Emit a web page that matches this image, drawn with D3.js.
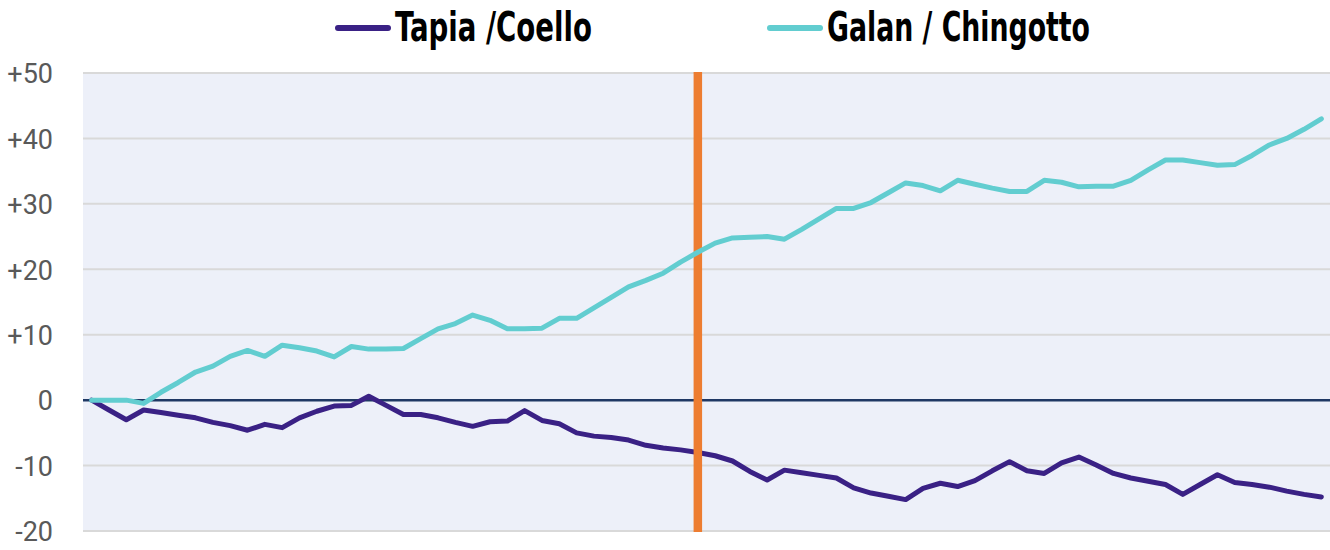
<!DOCTYPE html>
<html>
<head>
<meta charset="utf-8">
<script src="https://cdn.jsdelivr.net/npm/d3@7"></script>
<style>
  body { margin: 0; background: #fff; }
  svg { display: block; }
</style>
</head>
<body>
<div id="chart"></div>
<script>
// Match numbers (x categories), one point per match
const matches = d3.range(1, 73);

// Cumulative difference
const tapiaCoello = [
  0, -1.5, -3.0, -1.5, -1.9, -2.3, -2.7, -3.4, -3.9, -4.6,
  -3.7, -4.2, -2.7, -1.7, -0.9, -0.8, 0.6, -0.8, -2.2, -2.2,
  -2.7, -3.4, -4.0, -3.3, -3.2, -1.6, -3.1, -3.6, -5.0, -5.5,
  -5.7, -6.1, -6.9, -7.3, -7.6, -8.0, -8.5, -9.3, -10.9, -12.2,
  -10.7, -11.1, -11.5, -11.9, -13.4, -14.2, -14.7, -15.2, -13.5, -12.7,
  -13.2, -12.3, -10.8, -9.4, -10.8, -11.2, -9.6, -8.7, -9.9, -11.2,
  -11.9, -12.4, -12.9, -14.4, -12.9, -11.4, -12.6, -12.9, -13.3, -13.9,
  -14.4, -14.8
];

const galanChingotto = [
  0, 0, 0, -0.5, 1.2, 2.7, 4.3, 5.2, 6.7, 7.6,
  6.7, 8.4, 8.0, 7.5, 6.6, 8.2, 7.8, 7.8, 7.9, 9.4,
  10.9, 11.7, 13.0, 12.2, 10.9, 10.9, 11.0, 12.5, 12.5, 14.1,
  15.7, 17.3, 18.3, 19.4, 21.1, 22.6, 24.0, 24.8, 24.9, 25.0,
  24.6, 26.1, 27.7, 29.3, 29.3, 30.2, 31.7, 33.2, 32.8, 32.0,
  33.6, 33.0, 32.4, 31.9, 31.9, 33.6, 33.3, 32.6, 32.7, 32.7,
  33.6, 35.2, 36.7, 36.7, 36.3, 35.9, 36.0, 37.4, 39.0, 40.0,
  41.4, 43.0
];

const yTicks = [-20, -10, 0, 10, 20, 30, 40, 50];
const markerMatch = 36;

const seriesNames = ["Tapia /Coello", "Galan / Chingotto"];
const seriesColors = ["#3a2185", "#62cdd0"];

const W = 1330, H = 550;
const margin = { top: 73, right: 0, bottom: 18, left: 83 };

const svg = d3.select("#chart").append("svg")
  .attr("width", W).attr("height", H);

const x = d3.scalePoint()
  .domain(matches)
  .range([margin.left, W - margin.right])
  .padding(0.5);

const y = d3.scaleLinear()
  .domain([-20, 50])
  .range([H - margin.bottom - 1, margin.top]);

// plot background
svg.append("rect")
  .attr("x", margin.left).attr("y", y(50) - 1)
  .attr("width", W - margin.right - margin.left)
  .attr("height", y(-20) - y(50) + 2)
  .attr("fill", "#edf0f9");

// gridlines
svg.append("g")
  .selectAll("line")
  .data(yTicks.filter(d => d !== 0))
  .join("line")
  .attr("x1", margin.left).attr("x2", W - margin.right)
  .attr("y1", d => y(d)).attr("y2", d => y(d))
  .attr("stroke", "#d9d9d9")
  .attr("stroke-width", 2);

// y axis labels
const yAxis = svg.append("g")
  .attr("transform", `translate(53,0)`)
  .call(d3.axisLeft(y).tickValues(yTicks).tickSize(0).tickPadding(0)
    .tickFormat(d => d > 0 ? "+" + d : String(d)));
yAxis.select(".domain").remove();
yAxis.selectAll("text")
  .attr("fill", "#595959")
  .style("font-family", "Roboto, 'Liberation Sans', sans-serif")
  .style("font-size", "27px")
  .attr("dy", "0.36em");

// zero line
svg.append("line")
  .attr("x1", margin.left).attr("x2", W - margin.right)
  .attr("y1", y(0)).attr("y2", y(0))
  .attr("stroke", "#1f3864")
  .attr("stroke-width", 2.5);

const line = d3.line()
  .x((d, i) => x(matches[i]))
  .y(d => y(d));

svg.append("path")
  .datum(tapiaCoello)
  .attr("d", line)
  .attr("fill", "none")
  .attr("stroke", seriesColors[0])
  .attr("stroke-width", 5)
  .attr("stroke-linejoin", "round")
  .attr("stroke-linecap", "round");

// orange marker line
svg.append("line")
  .attr("x1", x(markerMatch)).attr("x2", x(markerMatch))
  .attr("y1", y(50) - 1).attr("y2", y(-20) + 1)
  .attr("stroke", "#ed7d31")
  .attr("stroke-width", 8.5);

svg.append("path")
  .datum(galanChingotto)
  .attr("d", line)
  .attr("fill", "none")
  .attr("stroke", seriesColors[1])
  .attr("stroke-width", 5)
  .attr("stroke-linejoin", "round")
  .attr("stroke-linecap", "round");

// legend
const legendItems = [
  { name: seriesNames[0], color: seriesColors[0], x: 338, textW: 197 },
  { name: seriesNames[1], color: seriesColors[1], x: 770, textW: 263 }
];
const lg = svg.append("g").selectAll("g")
  .data(legendItems)
  .join("g")
  .attr("transform", d => `translate(${d.x},28)`);

lg.append("line")
  .attr("x1", 0).attr("x2", 50)
  .attr("stroke", d => d.color)
  .attr("stroke-width", 6)
  .attr("stroke-linecap", "round");

lg.append("text")
  .attr("x", 57).attr("y", 13)
  .attr("textLength", d => d.textW)
  .attr("lengthAdjust", "spacingAndGlyphs")
  .style("font-family", "'Liberation Sans Narrow', 'DejaVu Sans Condensed', 'Liberation Sans', sans-serif")
  .style("font-weight", "bold")
  .style("font-size", "41px")
  .attr("fill", "#000")
  .text(d => d.name);
</script>
</body>
</html>
